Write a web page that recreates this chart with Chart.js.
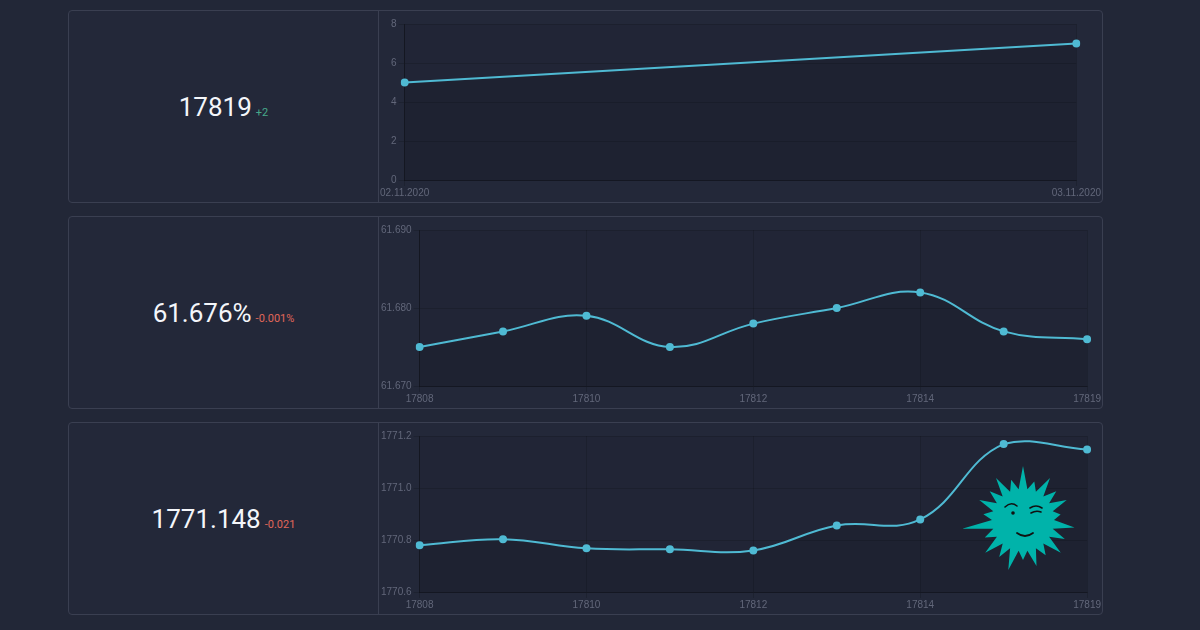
<!DOCTYPE html>
<html>
<head>
<meta charset="utf-8">
<script src="https://cdn.jsdelivr.net/npm/chart.js@4.4.0/dist/chart.umd.min.js"></script>
<style>
  html, body { margin: 0; padding: 0; background: #222737; width: 1200px; height: 630px; overflow: hidden; }
  .wrap { position: absolute; left: 68px; top: 10px; width: 1035px; }
  .panel {
    position: relative; height: 191px; margin-bottom: 13px;
    border: 1px solid #3a3f51; border-radius: 4px; box-sizing: content-box;
    display: flex; background: #232839;
  }
  .stat {
    width: 309px; border-right: 1px solid #3a3f51;
    display: flex; align-items: center; justify-content: center;
    font-family: Roboto, sans-serif; color: #f4f6fa;
  }
  .stat .big { font-size: 26px; }
  .stat .delta { font-size: 11px; margin-left: 4px; }
  .stat .line { display: flex; align-items: baseline; }
  .up { color: #47a98b; }
  .down { color: #e0675a; }
  .chartbox { position: relative; width: 723px; height: 191px; }
  #mascot { position: absolute; left: 963px; top: 460px; width: 120px; height: 120px; }
</style>
</head>
<body>
<div class="wrap">
  <div class="panel">
    <div class="stat"><div class="line"><span class="big">17819</span><span class="delta up">+2</span></div></div>
    <div class="chartbox"><canvas id="c1"></canvas></div>
  </div>
  <div class="panel">
    <div class="stat"><div class="line"><span class="big">61.676%</span><span class="delta down">-0.001%</span></div></div>
    <div class="chartbox"><canvas id="c2"></canvas></div>
  </div>
  <div class="panel">
    <div class="stat"><div class="line"><span class="big">1771.148</span><span class="delta down">-0.021</span></div></div>
    <div class="chartbox"><canvas id="c3"></canvas></div>
  </div>
</div>
<svg id="mascot" viewBox="0 0 120 120"></svg>
<script>
// chart 1 - count per day
const dayLabels = ['02.11.2020', '03.11.2020'];
const dayValues = [5, 7];

// charts 2 & 3 - per block
const blockLabels = ['17808', '17809', '17810', '17811', '17812', '17813', '17814', '17815', '17819'];
const percentValues = [61.675, 61.677, 61.679, 61.675, 61.678, 61.680, 61.682, 61.677, 61.676];
const priceValues = [1770.780, 1770.803, 1770.768, 1770.764, 1770.760, 1770.856, 1770.879, 1771.169, 1771.148];

const LINE = '#4fbad3';
const TICK = '#62677a';
const GRID = 'rgba(0,0,0,0.15)';

Chart.defaults.font.family = "'Liberation Sans', Arial, sans-serif";
Chart.defaults.font.size = 10;
Chart.defaults.color = TICK;

const areaBg = {
  id: 'areaBg',
  beforeDraw(chart) {
    const { ctx, chartArea: a } = chart;
    ctx.save();
    ctx.fillStyle = 'rgba(0,0,0,0.05)';
    ctx.fillRect(a.left, a.top, a.right - a.left, a.bottom - a.top);
    ctx.restore();
  }
};

function makeChart(id, labels, values, yOpts, tension, skipOdd) {
  return new Chart(document.getElementById(id), {
    type: 'line',
    data: {
      labels: labels,
      datasets: [{
        data: values,
        borderColor: LINE,
        borderWidth: 2,
        backgroundColor: 'rgba(0,0,0,0.09)',
        fill: 'start',
        tension: tension,
        pointRadius: 4,
        pointBackgroundColor: LINE,
        pointBorderWidth: 0
      }]
    },
    options: {
      responsive: true,
      maintainAspectRatio: false,
      animation: false,
      layout: { padding: { top: 13, left: 0, right: 0, bottom: 2 } },
      plugins: { legend: { display: false }, tooltip: { enabled: false } },
      scales: {
        x: {
          grid: { color: GRID, tickLength: 6 },
          border: { color: 'rgba(0,0,0,0.3)' },
          ticks: {
            maxRotation: 0, autoSkip: false, padding: 1,
            callback: function (v, i) { return (!skipOdd || i % 2 === 0) ? this.getLabelForValue(v) : null; }
          }
        },
        y: Object.assign({
          grid: { color: GRID, tickLength: 6 },
          border: { color: 'rgba(0,0,0,0.3)' }
        }, yOpts)
      }
    },
    plugins: [areaBg]
  });
}

makeChart('c1', dayLabels, dayValues,
  { min: 0, max: 8, ticks: { stepSize: 2, padding: 2 } }, 0, false);
makeChart('c2', blockLabels, percentValues,
  { min: 61.670, max: 61.690, ticks: { stepSize: 0.010, padding: 2, callback: v => v.toFixed(3) } }, 0.4, true);
makeChart('c3', blockLabels, priceValues,
  { min: 1770.6, max: 1771.2, ticks: { stepSize: 0.2, padding: 2, callback: v => v.toFixed(1) } }, 0.4, true);

// decorative mascot
const spikeLen = [54, 40, 50, 44, 48, 38, 52, 46, 50, 42, 48, 40, 52, 44, 50, 42, 62, 40, 48, 44, 50, 42];
const pts = [];
const n = spikeLen.length;
for (let i = 0; i < n; i++) {
  const a0 = -Math.PI / 2 + (i / n) * Math.PI * 2;
  const a1 = a0 + Math.PI / n;
  pts.push((60 + Math.cos(a0) * spikeLen[i]).toFixed(1) + ',' + (60 + Math.sin(a0) * spikeLen[i]).toFixed(1));
  pts.push((60 + Math.cos(a1) * 31).toFixed(1) + ',' + (60 + Math.sin(a1) * 31).toFixed(1));
}
document.getElementById('mascot').innerHTML =
  '<polygon points="' + pts.join(' ') + '" fill="#00b3aa"/>' +
  '<path d="M42 47 Q48 41 54 46" stroke="#111" stroke-width="1.6" fill="none" stroke-linecap="round"/>' +
  '<circle cx="50" cy="53" r="1.8" fill="#111"/>' +
  '<path d="M67 48 Q73 44 79 48" stroke="#111" stroke-width="1.6" fill="none" stroke-linecap="round"/>' +
  '<path d="M68 53 Q73 50 78 52" stroke="#111" stroke-width="1.6" fill="none" stroke-linecap="round"/>' +
  '<path d="M54 73 Q62 79 70 73" stroke="#111" stroke-width="1.8" fill="none" stroke-linecap="round"/>';
</script>
</body>
</html>
